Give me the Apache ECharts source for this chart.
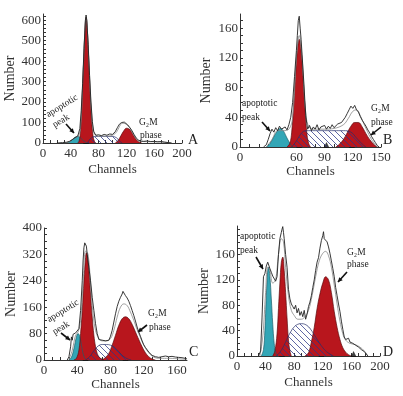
<!DOCTYPE html>
<html>
<head>
<meta charset="utf-8">
<script src="https://cdn.jsdelivr.net/npm/echarts@6/dist/echarts.min.js"></script>
<style>
html, body { margin: 0; padding: 0; background: #fff; }
#main { width: 403px; height: 396px; }
</style>
</head>
<body>
<div id="main"></div>
<script>
// panel A
var aHist = [[20,0],[28,2],[34,4],[38,8],[42,16],[46,26],[50,34],[53,70],[55,160],[57,290],[59,460],[61,600],[62,625],[63,600],[65,480],[67,330],[69,200],[71,105],[73,55],[76,38],[80,40],[84,36],[88,42],[92,38],[96,44],[100,42],[104,55],[107,75],[110,92],[113,100],[115,98],[117,102],[119,95],[122,88],[125,75],[128,60],[131,42],[134,25],[137,15],[140,10],[145,8],[150,10],[155,7],[160,8],[165,6],[170,7],[175,4],[180,2],[185,0]];
var aFit = [[30,0],[38,6],[44,22],[50,33],[54,70],[58,365],[62,615],[66,395],[70,140],[74,45],[80,34],[90,34],[100,38],[106,55],[110,80],[114,96],[118,95],[122,85],[126,68],[130,42],[134,20],[138,10],[145,7],[160,6],[175,4],[185,0]];
var aApop = [[34,0],[38,5],[42,16],[46,28],[50,32],[54,25],[58,12],[62,3],[64,0]];
var aG1 = [[50,0],[52,10],[54,60],[56,200],[58,360],[60,520],[62,613],[64,540],[66,390],[68,230],[70,110],[72,35],[74,8],[76,0]];
var aS = [[64,0],[68,20],[72,30],[80,32],[90,32],[100,32],[106,25],[110,10],[114,0]];
var aG2 = [[104,0],[108,12],[112,35],[116,58],[120,72],[124,68],[128,50],[132,28],[136,10],[140,2],[142,0]];
var aMarks = [62];

// panel B
var bHist = [[25,0],[28,3],[30,10],[32,18],[34,24],[36,20],[38,26],[40,22],[42,28],[44,24],[46,22],[48,27],[50,23],[52,30],[54,40],[56,60],[58,95],[60,130],[61,150],[62,170],[63,176],[64,160],[65,145],[66,125],[67,105],[68,85],[69,62],[70,42],[71,32],[72,24],[74,29],[76,22],[78,27],[80,24],[82,30],[84,23],[86,27],[88,25],[90,29],[92,24],[94,28],[96,25],[98,30],[100,26],[102,28],[104,31],[106,29],[108,33],[110,35],[112,40],[114,45],[116,50],[118,55],[120,52],[122,56],[124,50],[126,47],[128,41],[130,36],[132,32],[134,28],[136,23],[138,19],[140,14],[142,10],[144,6],[146,2],[148,0]];
var bFit = [[28,0],[34,10],[40,22],[46,22],[52,24],[56,40],[60,120],[63,150],[66,120],[70,45],[74,26],[80,24],[90,24],[100,25],[110,30],[115,38],[120,48],[124,50],[128,42],[134,25],[140,10],[146,0]];
var bApop = [[28,0],[32,5],[36,14],[40,22],[43,25],[46,22],[50,12],[54,3],[56,0]];
var bG1 = [[50,0],[53,5],[55,20],[57,55],[59,95],[61,130],[63,145],[65,130],[67,95],[69,55],[71,20],[73,5],[75,0]];
var bS = [[55,0],[60,8],[65,18],[70,22],[80,22],[90,22],[100,22],[110,22],[118,20],[124,12],[130,4],[134,0]];
var bG2 = [[102,0],[106,4],[110,10],[114,19],[118,28],[122,33],[126,33],[130,27],[134,18],[138,10],[142,4],[146,0]];
var bMarks = [63, 92, 119];

// panel C
var cHist = [[28,0],[30,10],[32,40],[33,70],[34,60],[35,78],[36,72],[38,82],[40,78],[42,95],[44,150],[46,240],[47,300],[48,340],[49,355],[50,350],[51,345],[52,320],[54,280],[56,240],[58,190],[60,150],[62,110],[64,80],[66,62],[68,56],[70,60],[72,54],[74,58],[76,62],[78,60],[80,72],[82,90],[84,115],[86,140],[88,162],[90,178],[92,190],[94,200],[95,208],[96,203],[97,206],[98,195],[100,188],[102,178],[104,165],[106,150],[108,135],[110,118],[112,100],[114,85],[116,72],[118,58],[120,46],[122,38],[124,32],[126,24],[128,18],[130,14],[134,10],[138,8],[142,10],[146,12],[150,10],[154,11],[158,9],[162,8],[166,7],[170,5],[172,3]];
var cFit = [[30,0],[34,30],[38,75],[41,85],[44,120],[47,230],[50,330],[53,320],[56,230],[59,140],[62,90],[66,65],[70,58],[75,58],[80,65],[84,90],[88,130],[92,160],[96,170],[100,165],[104,145],[108,120],[112,92],[116,68],[120,45],[125,25],[130,12],[135,6],[140,5],[150,5],[160,4],[170,2]];
var cApop = [[30,0],[33,8],[36,35],[39,70],[41,80],[43,72],[45,45],[47,20],[49,5],[51,0]];
var cG1 = [[36,0],[39,5],[42,30],[44,80],[46,150],[48,240],[50,310],[51,325],[52,320],[54,270],[56,200],[58,130],[60,75],[62,40],[64,20],[66,10],[68,5],[72,0]];
var cS = [[50,0],[55,10],[60,28],[65,42],[70,47],[75,47],[80,45],[85,38],[90,25],[95,12],[100,4],[105,0]];
var cG2 = [[70,0],[74,8],[78,20],[82,45],[86,75],[90,105],[94,125],[98,131],[102,125],[106,108],[110,85],[114,62],[118,40],[122,22],[126,10],[130,3],[134,0]];
var cMarks = [50, 98];

// panel D
var dHist = [[30,0],[33,8],[35,60],[37,125],[39,130],[41,142],[43,148],[44,150],[46,138],[48,132],[50,126],[52,128],[54,118],[56,125],[58,160],[60,185],[62,195],[63,200],[64,204],[65,195],[66,185],[68,160],[70,140],[72,105],[74,90],[76,82],[78,78],[80,74],[82,80],[84,68],[86,75],[88,64],[90,70],[92,62],[94,72],[96,58],[98,66],[100,78],[102,85],[104,95],[106,108],[108,120],[110,135],[112,148],[114,155],[116,170],[118,182],[120,190],[121,196],[122,185],[124,182],[126,180],[128,172],[130,162],[132,150],[134,138],[136,125],[138,108],[140,95],[142,82],[144,70],[146,55],[148,42],[150,30],[152,26],[154,24],[156,28],[158,22],[160,25],[162,20],[164,22],[166,17],[168,19],[170,14],[172,16],[174,10],[176,12],[178,7],[180,4],[183,0]];
var dFit = [[32,0],[36,30],[40,100],[43,140],[46,135],[50,115],[54,120],[58,160],[62,185],[65,180],[68,140],[72,95],[76,72],[80,64],[85,58],[90,58],[95,62],[100,72],[105,95],[110,125],[115,150],[120,162],[124,165],[128,158],[132,140],[136,112],[140,82],[144,55],[148,35],[152,25],[158,20],[165,18],[172,14],[178,8],[183,0]];
var dApop = [[34,0],[37,10],[39,40],[41,95],[43,135],[44,140],[46,125],[48,90],[50,50],[52,20],[54,6],[56,0]];
var dG1 = [[50,0],[53,8],[56,35],[58,75],[60,115],[62,148],[64,156],[66,135],[68,100],[70,60],[72,25],[74,8],[76,0]];
var dS = [[55,0],[60,6],[65,15],[70,27],[75,38],[80,46],[85,50],[90,51],[95,50],[100,46],[105,39],[110,30],[115,21],[120,13],[125,7],[130,3],[135,0]];
var dG2 = [[95,0],[100,5],[104,22],[108,45],[112,75],[116,98],[120,115],[124,125],[128,120],[132,100],[136,70],[140,45],[144,26],[148,13],[152,6],[156,2],[160,0]];
var dMarks = [63, 118, 163];

var SERIF = '"Liberation Serif","DejaVu Serif",serif';
var RED = '#b8161d';
var CYAN = '#33a6b6';

function makeHatch() {
    var c = document.createElement('canvas');
    c.width = 6;
    c.height = 6;
    var g = c.getContext('2d');
    g.strokeStyle = 'rgba(45,55,135,0.85)';
    g.lineWidth = 0.9;
    for (var k = -6; k <= 6; k += 6) {
        g.beginPath();
        g.moveTo(k, 0);
        g.lineTo(k + 6, 6);
        g.stroke();
    }
    return c;
}
var hatch = makeHatch();

function range(step, max) {
    var out = [];
    for (var v = 0; v <= max; v += step) out.push(v);
    return out;
}

var grids = [
    {left: 43, top: 14, width: 139, height: 129},
    {left: 240, top: 14, width: 141, height: 133},
    {left: 44, top: 228, width: 143, height: 132},
    {left: 237, top: 226, width: 143, height: 130}
];

function xAx(gi, max, labels, gap) {
    return {
        gridIndex: gi, type: 'value', min: 0, max: max,
        name: 'Channels', nameLocation: 'middle', nameGap: gap,
        nameTextStyle: {fontFamily: SERIF, fontSize: 13, color: '#333'},
        axisLine: {lineStyle: {color: '#333', width: 1}},
        axisTick: {inside: true, length: 3, customValues: range(10, max), lineStyle: {color: '#333'}},
        axisLabel: {customValues: labels, fontFamily: SERIF, fontSize: 13, color: '#333', margin: 4},
        splitLine: {show: false}
    };
}

function yAx(gi, max, labels, tickStep, gap) {
    return {
        gridIndex: gi, type: 'value', min: 0, max: max,
        name: 'Number', nameLocation: 'middle', nameGap: gap, nameRotate: 90,
        nameTextStyle: {fontFamily: SERIF, fontSize: 14, color: '#333'},
        axisLine: {show: true, lineStyle: {color: '#333', width: 1}},
        axisTick: {inside: true, length: 3, customValues: range(tickStep, max), lineStyle: {color: '#333'}},
        axisLabel: {customValues: labels, fontFamily: SERIF, fontSize: 13, color: '#333', margin: 2},
        splitLine: {show: false}
    };
}

function area(gi, data, fill, edge) {
    return {
        type: 'line', xAxisIndex: gi, yAxisIndex: gi, data: data,
        smooth: 0.4, showSymbol: false, silent: true,
        lineStyle: {color: edge, width: 0.7},
        areaStyle: {color: fill, opacity: 1}
    };
}

function panelSeries(gi, hist, fit, apop, g1, s, g2, marks) {
    return [
        area(gi, apop, CYAN, '#1d5f6a'),
        area(gi, g1, RED, '#5c0d10'),
        area(gi, g2, RED, '#5c0d10'),
        area(gi, s, {image: hatch, repeat: 'repeat'}, '#27306a'),
        {
            type: 'line', xAxisIndex: gi, yAxisIndex: gi, data: fit,
            smooth: 0.4, showSymbol: false, silent: true,
            lineStyle: {color: '#888', width: 0.8}
        },
        {
            type: 'line', xAxisIndex: gi, yAxisIndex: gi, data: hist,
            showSymbol: false, silent: true,
            lineStyle: {color: '#222', width: 0.9}
        },
        {
            type: 'scatter', xAxisIndex: gi, yAxisIndex: gi,
            data: marks.map(function (m) { return [m, 0]; }),
            symbol: 'triangle', symbolSize: [6, 6], symbolOffset: [0, -2],
            itemStyle: {color: '#111'}, silent: true
        }
    ];
}

function txt(x, y, s, opts) {
    opts = opts || {};
    return {
        type: 'text', x: x, y: y, rotation: opts.rot || 0,
        style: {
            text: s, fontFamily: SERIF, fontSize: opts.size || 9.5, fill: '#222',
            align: opts.align || 'left', verticalAlign: 'middle'
        }
    };
}

function arrow(x1, y1, x2, y2) {
    var a = Math.atan2(y2 - y1, x2 - x1), h = 5;
    return [
        {type: 'line', shape: {x1: x1, y1: y1, x2: x2, y2: y2}, style: {stroke: '#111', lineWidth: 1.6}},
        {type: 'polygon', shape: {points: [
            [x2, y2],
            [x2 - h * Math.cos(a - 0.5), y2 - h * Math.sin(a - 0.5)],
            [x2 - h * Math.cos(a + 0.5), y2 - h * Math.sin(a + 0.5)]
        ]}, style: {fill: '#111'}}
    ];
}

var graphics = [].concat(
    // A
    [txt(62, 106, 'apoptotic', {align: 'center', rot: 0.55}), txt(61, 121, 'peak', {align: 'center', rot: 0.55}),
     txt(139, 122, 'G\u2082M'), txt(140, 135, 'phase'), txt(188, 140, 'A', {size: 14})],
    arrow(66, 124, 74, 133),
    // B
    [txt(242, 103, 'apoptotic'), txt(242, 117, 'peak'),
     txt(371, 108, 'G\u2082M'), txt(371, 122, 'phase'), txt(383, 140, 'B', {size: 14})],
    arrow(262, 122, 270, 131),
    arrow(381, 127, 371, 135),
    // C
    [txt(63, 311, 'apoptotic', {align: 'center', rot: 0.55}), txt(61, 328, 'peak', {align: 'center', rot: 0.55}),
     txt(148, 313, 'G\u2082M'), txt(149, 327, 'phase'), txt(189, 352, 'C', {size: 14})],
    arrow(61, 333, 70, 340),
    arrow(147, 325, 138, 332),
    // D
    [txt(240, 236, 'apoptotic'), txt(240, 250, 'peak'),
     txt(347, 252, 'G\u2082M'), txt(347, 264, 'phase'), txt(383, 352, 'D', {size: 14})],
    arrow(256, 257, 263, 269),
    arrow(347, 272, 338, 282)
);

var option = {
    animation: false,
    backgroundColor: '#fff',
    grid: grids,
    xAxis: [
        xAx(0, 200, [0, 40, 80, 120, 160, 200], 20),
        xAx(1, 150, [0, 60, 90, 120, 150], 17),
        xAx(2, 172, [0, 40, 80, 120, 160], 16),
        xAx(3, 200, [0, 40, 80, 120, 160, 200], 20)
    ],
    yAxis: [
        yAx(0, 630, [0, 100, 200, 300, 400, 500, 600], 20, 25),
        yAx(1, 179, [0, 40, 80, 120, 160], 10, 27),
        yAx(2, 400, [0, 80, 160, 240, 320, 400], 20, 26),
        yAx(3, 205, [0, 40, 80, 120, 160], 10, 25)
    ],
    series: [].concat(
        panelSeries(0, aHist, aFit, aApop, aG1, aS, aG2, aMarks),
        panelSeries(1, bHist, bFit, bApop, bG1, bS, bG2, bMarks),
        panelSeries(2, cHist, cFit, cApop, cG1, cS, cG2, cMarks),
        panelSeries(3, dHist, dFit, dApop, dG1, dS, dG2, dMarks)
    ),
    graphic: graphics
};

var myChart = echarts.init(document.getElementById('main'));
myChart.setOption(option);
</script>
</body>
</html>
